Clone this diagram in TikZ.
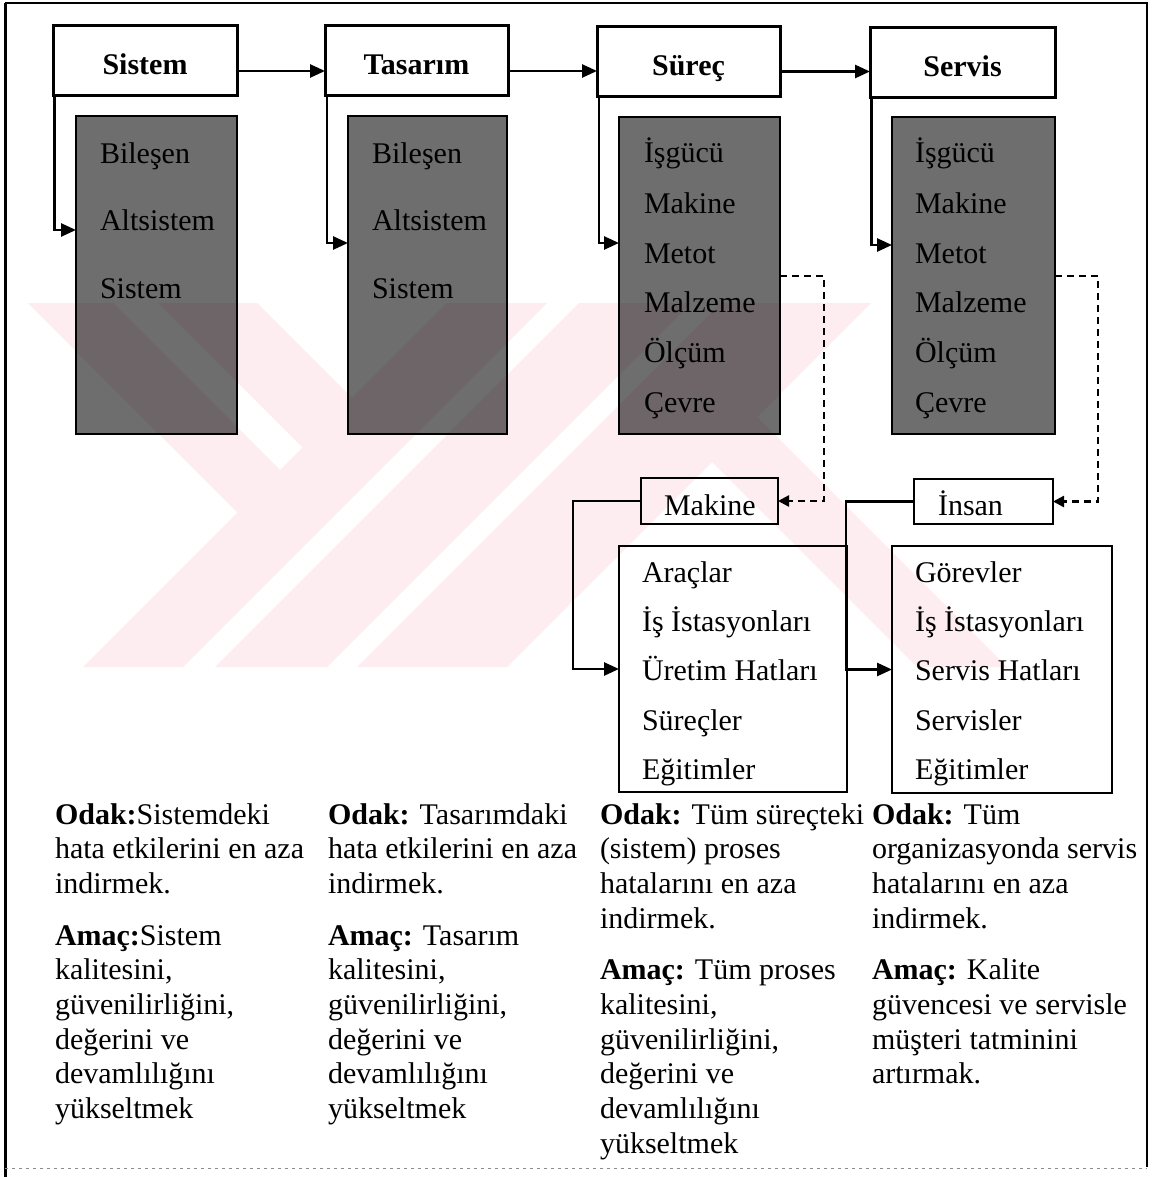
\documentclass[tikz,border=0pt]{standalone}
\usepackage{fontspec}
\setmainfont{Liberation Serif}
\usetikzlibrary{arrows.meta,calc}
\definecolor{wmpink}{RGB}{253,236,240}
\begin{document}
\begin{tikzpicture}[x=1pt,y=-1pt,
  every node/.style={inner sep=0pt,outer sep=0pt,font=\fontsize{30}{34.7}\selectfont},
  head/.style={draw,line width=3pt,fill=white,minimum height=70pt,text height=28pt,text depth=0pt,font=\fontsize{30}{36}\selectfont\bfseries},
  shadebox/.style={draw=black,line width=2.6pt,fill=black,fill opacity=0.57},
  plainbox/.style={draw,line width=2.8pt},
  item/.style={anchor=base west},
  arr/.style={line width=2.6pt,-{Triangle[length=15pt,width=13pt]}},
  dasharr/.style={line width=2.4pt,dash pattern=on 7pt off 5pt,-{Triangle[length=11pt,width=11pt]}},
  note/.style={anchor=base west}
]
\useasboundingbox (0,0) rectangle (1153,1177);
\fill[white] (0,0) rectangle (1153,1177);

% background mark: diagonal pale stripes
\begin{scope}
  \clip (0,303) rectangle (1153,667);
  \fill[wmpink] (28,303) -- (113,303) -- (280,470) -- (237.5,512.5) -- cycle;
  \fill[wmpink] (158,303) -- (257,303) -- (352,398) -- (302.5,447.5) -- cycle;
  \fill[wmpink] (447,303) -- (547,303) -- (183,667) -- (83,667) -- cycle;
  \fill[wmpink] (579,303) -- (691,303) -- (327,667) -- (215,667) -- cycle;
  \fill[wmpink] (721,303) -- (871,303) -- (507,667) -- (357,667) -- cycle;
  \fill[wmpink] (712,462) -- (757,417) -- (1007,667) -- (917,667) -- cycle;
\end{scope}

% outer frame
\draw[line width=3pt] (5,3) -- (5,1177);
\draw[line width=2pt] (5,3) -- (1147,3) -- (1147,1167);
\draw[black!45,line width=1pt,dash pattern=on 3pt off 4pt] (5,1168) -- (1147,1168);

% top level boxes
\node[head,minimum width=184pt] (sistem)  at (145,61)     {Sistem};
\node[head,minimum width=183pt] (tasarim) at (416.5,61)   {Tasarım};
\node[head,minimum width=183pt] (surec)   at (688.5,61.5) {Süreç};
\node[head,minimum width=185pt] (servis)  at (962.5,62.5) {Servis};

\draw[arr] ([yshift=-10pt]sistem.east) -- ([yshift=-10pt]sistem.east -| tasarim.west);
\draw[arr] ([yshift=-10pt]tasarim.east) -- ([yshift=-10pt]tasarim.east -| surec.west);
\draw[arr] ([yshift=-10pt]surec.east) -- ([yshift=-10pt]surec.east -| servis.west);

% shaded detail columns
\node[shadebox,minimum width=161pt,minimum height=318pt] (g1) at (156.5,275) {};
\node[shadebox,minimum width=159pt,minimum height=318pt] (g2) at (427.5,275) {};
\node[shadebox,minimum width=161pt,minimum height=317pt] (g3) at (699.5,275.5) {};
\node[shadebox,minimum width=163pt,minimum height=317pt] (g4) at (973.5,275.5) {};

\node[item] (g1a) at (100,164) {Bileşen};
\node[item] (g1b) at (100,230) {Altsistem};
\node[item] (g1c) at (100,298) {Sistem};
\node[item] (g2a) at (372,164) {Bileşen};
\node[item] (g2b) at (372,230) {Altsistem};
\node[item] (g2c) at (372,298) {Sistem};
\foreach \n/\x in {g3/644,g4/915}{
  \node[item] (\n a) at (\x,163) {İşgücü};
  \node[item] (\n b) at (\x,213) {Makine};
  \node[item] (\n c) at (\x,263) {Metot};
  \node[item] (\n d) at (\x,312) {Malzeme};
  \node[item] (\n e) at (\x,362) {Ölçüm};
  \node[item] (\n f) at (\x,412) {Çevre};
}

\draw[arr] ([xshift=1.5pt]sistem.south west)  |- ($(g1.north west)+(0,114)$);
\draw[arr] ([xshift=2pt]tasarim.south west)   |- ($(g2.north west)+(0,127)$);
\draw[arr] ([xshift=2pt]surec.south west)     |- ($(g3.north west)+(0,126)$);
\draw[arr] ([xshift=1.5pt]servis.south west)  |- ($(g4.north west)+(0,128)$);

% lower boxes
\node[plainbox,minimum width=137pt,minimum height=46pt] (mk)  at (709.5,501) {};
\node[item] (mkt) at (664,515) {Makine};
\node[plainbox,minimum width=139pt,minimum height=45pt] (ins) at (983.5,501.5) {};
\node[item] (inst) at (938,515) {İnsan};

\node[plainbox,minimum width=228pt,minimum height=246pt] (ml) at (733,669) {};
\node[plainbox,minimum width=220pt,minimum height=247pt] (sl) at (1002,669.5) {};

\node[item] (ml1) at (642,582) {Araçlar};
\node[item] (ml2) at (642,631) {İş İstasyonları};
\node[item] (ml3) at (642,680) {Üretim Hatları};
\node[item] (ml4) at (642,730) {Süreçler};
\node[item] (ml5) at (642,779) {Eğitimler};
\node[item] (sl1) at (915,582) {Görevler};
\node[item] (sl2) at (915,631) {İş İstasyonları};
\node[item] (sl3) at (915,680) {Servis Hatları};
\node[item] (sl4) at (915,730) {Servisler};
\node[item] (sl5) at (915,779) {Eğitimler};

\draw[dasharr] ($(g3.north east)+(0,159)$) -- ++(44,0) |- (mk.east);
\draw[dasharr] ($(g4.north east)+(0,159)$) -- ++(43,0) |- (ins.east);
\draw[arr] (mk.west) -- ++(-68,0) |- (ml.west);
\draw[arr] (ins.west) -- ++(-68,0) |- (sl.west);

% focus and goal notes
\node[note] (n1) at (55,824) {\parbox[t]{270pt}{\raggedright
  \textbf{Odak:}Sistemdeki\\ hata etkilerini en aza\\ indirmek.\\[17pt]
  \textbf{Amaç:}Sistem\\ kalitesini,\\ güvenilirliğini,\\ değerini ve\\ devamlılığını\\ yükseltmek}};
\node[note] (n2) at (328,824) {\parbox[t]{270pt}{\raggedright
  \textbf{Odak:} Tasarımdaki\\ hata etkilerini en aza\\ indirmek.\\[17pt]
  \textbf{Amaç:} Tasarım\\ kalitesini,\\ güvenilirliğini,\\ değerini ve\\ devamlılığını\\ yükseltmek}};
\node[note] (n3) at (600,824) {\parbox[t]{270pt}{\raggedright
  \textbf{Odak:} Tüm süreçteki\\ (sistem) proses\\ hatalarını en aza\\ indirmek.\\[17pt]
  \textbf{Amaç:} Tüm proses\\ kalitesini,\\ güvenilirliğini,\\ değerini ve\\ devamlılığını\\ yükseltmek}};
\node[note] (n4) at (872,824) {\parbox[t]{275pt}{\raggedright
  \textbf{Odak:} Tüm\\ organizasyonda servis\\ hatalarını en aza\\ indirmek.\\[17pt]
  \textbf{Amaç:} Kalite\\ güvencesi ve servisle\\ müşteri tatminini\\ artırmak.}};
\end{tikzpicture}
\end{document}
